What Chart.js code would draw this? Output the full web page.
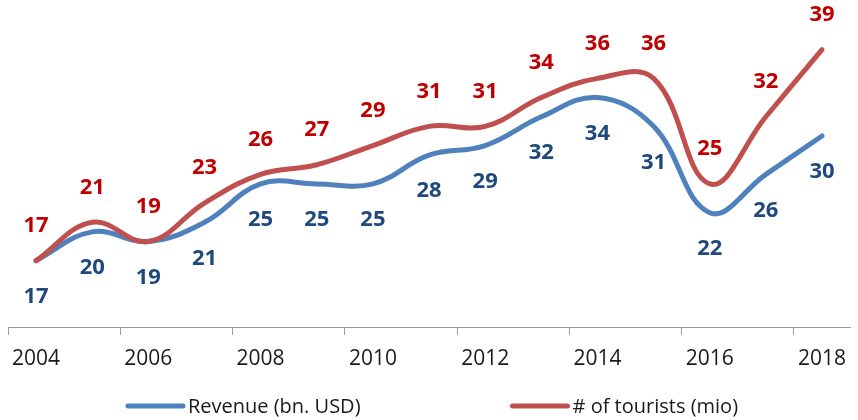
<!DOCTYPE html>
<html>
<head>
<meta charset="utf-8">
<script src="https://cdn.jsdelivr.net/npm/chart.js@4/dist/chart.umd.min.js"></script>
<style>
    html, body { margin: 0; padding: 0; background: #fff; }
    #wrap { width: 858px; height: 420px; }
</style>
</head>
<body>
<div id="wrap"><canvas id="line_chart"></canvas></div>
<script>
const years = ['2004', '2005', '2006', '2007', '2008', '2009', '2010', '2011',
    '2012', '2013', '2014', '2015', '2016', '2017', '2018'];
const revenue = [17, 20, 19, 21, 25, 25, 25, 28, 29, 32, 34, 31, 22, 26, 30];
const tourists = [17, 21, 19, 23, 26, 27, 29, 31, 31, 34, 36, 36, 25, 32, 39];
const seriesNames = ['Revenue (bn. USD)', '# of tourists (mio)'];

const FONT = '"Open Sans", "Noto Sans", sans-serif';
const lineColors = ['#4F81BD', '#C0504D'];
const labelColors = ['#1F497D', '#C00000'];

// value labels: blue under the line, red above it
const valueLabels = {
    id: 'valueLabels',
    afterDatasetsDraw(chart) {
        const ctx = chart.ctx;
        ctx.save();
        ctx.font = 'bold 22px ' + FONT;
        ctx.textAlign = 'center';
        ctx.textBaseline = 'middle';
        chart.data.datasets.forEach((ds, i) => {
            const meta = chart.getDatasetMeta(i);
            const shift = i === 0 ? 36 : -35;
            ctx.fillStyle = labelColors[i];
            meta.data.forEach((pt, j) => {
                ctx.fillText(ds.data[j], pt.x, pt.y + shift);
            });
        });
        ctx.restore();
    }
};

// legend with wide gap between the two entries
const lineLegend = {
    id: 'lineLegend',
    afterDraw(chart) {
        const ctx = chart.ctx;
        const y = 406;
        const sample = 55;
        const gap = 152;
        ctx.save();
        ctx.font = '20px ' + FONT;
        ctx.textBaseline = 'middle';
        const widths = seriesNames.map(n => sample + 5 + ctx.measureText(n).width);
        let x = chart.width / 2 + 4 - (widths[0] + gap + widths[1]) / 2;
        seriesNames.forEach((name, i) => {
            ctx.strokeStyle = lineColors[i];
            ctx.lineWidth = 5;
            ctx.lineCap = 'round';
            ctx.beginPath();
            ctx.moveTo(x, y);
            ctx.lineTo(x + sample, y);
            ctx.stroke();
            ctx.fillStyle = '#1a1a1a';
            ctx.fillText(name, x + sample + 5, y + 1);
            x += widths[i] + gap;
        });
        ctx.restore();
    }
};

const ctx = document.querySelector('#line_chart');
const chart = new Chart(ctx, {
    type: 'line',
    data: {
        labels: years,
        datasets: [{
            label: seriesNames[0],
            data: revenue,
            borderColor: lineColors[0],
            backgroundColor: lineColors[0],
            order: 1
        }, {
            label: seriesNames[1],
            data: tourists,
            borderColor: lineColors[1],
            backgroundColor: lineColors[1],
            order: 0
        }]
    },
    options: {
        responsive: true,
        maintainAspectRatio: false,
        animation: false,
        layout: { padding: { left: 8, right: 0, top: 40, bottom: 37 } },
        elements: {
            line: { borderWidth: 5, tension: 0.4, borderCapStyle: 'round', borderJoinStyle: 'round' },
            point: { radius: 0, hoverRadius: 0 }
        },
        plugins: {
            legend: { display: false },
            tooltip: { enabled: false }
        },
        scales: {
            x: {
                offset: true,
                grid: {
                    offset: true,
                    drawOnChartArea: false,
                    tickLength: 7,
                    tickWidth: 1,
                    tickColor: (c) => c.index % 2 === 0 ? '#9a9a9a' : 'rgba(0,0,0,0)'
                },
                border: { color: '#9a9a9a', width: 1 },
                ticks: {
                    autoSkip: false,
                    maxRotation: 0,
                    padding: 12,
                    color: '#1a1a1a',
                    font: { family: FONT, size: 21, lineHeight: 1.15 },
                    callback: (v, i) => i % 2 === 0 ? years[i] : ''
                }
            },
            y: {
                display: false,
                min: 10,
                max: 40
            }
        }
    },
    plugins: [valueLabels, lineLegend]
});
</script>
</body>
</html>
